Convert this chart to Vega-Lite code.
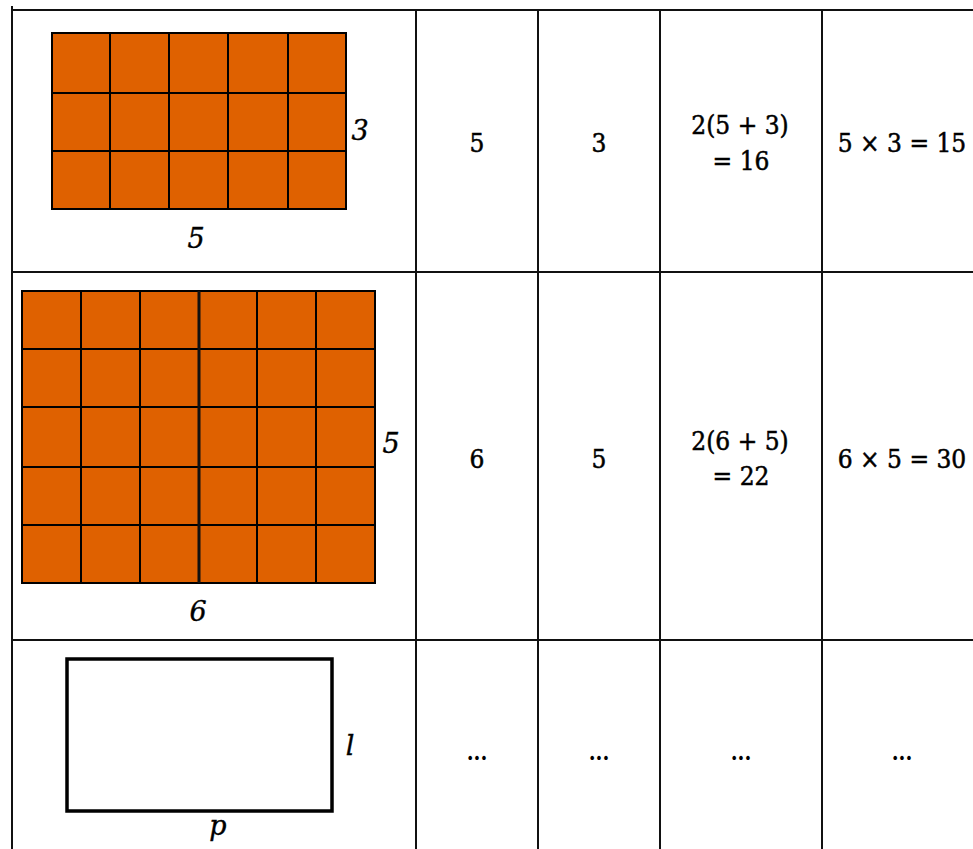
{
  "$schema": "https://vega.github.io/schema/vega-lite/v6.json",
  "width": 973,
  "height": 849,
  "autosize": "none",
  "padding": 0,
  "background": "white",
  "config": {"view": {"stroke": null}},
  "datasets": {
    "cells": [
      {"x":52,"x2":110,"y":33,"y2":93},{"x":110,"x2":169,"y":33,"y2":93},{"x":169,"x2":228,"y":33,"y2":93},{"x":228,"x2":288,"y":33,"y2":93},{"x":288,"x2":346,"y":33,"y2":93},
      {"x":52,"x2":110,"y":93,"y2":151},{"x":110,"x2":169,"y":93,"y2":151},{"x":169,"x2":228,"y":93,"y2":151},{"x":228,"x2":288,"y":93,"y2":151},{"x":288,"x2":346,"y":93,"y2":151},
      {"x":52,"x2":110,"y":151,"y2":209},{"x":110,"x2":169,"y":151,"y2":209},{"x":169,"x2":228,"y":151,"y2":209},{"x":228,"x2":288,"y":151,"y2":209},{"x":288,"x2":346,"y":151,"y2":209},
      {"x":22,"x2":81,"y":291,"y2":349},{"x":81,"x2":140,"y":291,"y2":349},{"x":140,"x2":199,"y":291,"y2":349},{"x":199,"x2":257,"y":291,"y2":349},{"x":257,"x2":316,"y":291,"y2":349},{"x":316,"x2":375,"y":291,"y2":349},
      {"x":22,"x2":81,"y":349,"y2":407},{"x":81,"x2":140,"y":349,"y2":407},{"x":140,"x2":199,"y":349,"y2":407},{"x":199,"x2":257,"y":349,"y2":407},{"x":257,"x2":316,"y":349,"y2":407},{"x":316,"x2":375,"y":349,"y2":407},
      {"x":22,"x2":81,"y":407,"y2":467},{"x":81,"x2":140,"y":407,"y2":467},{"x":140,"x2":199,"y":407,"y2":467},{"x":199,"x2":257,"y":407,"y2":467},{"x":257,"x2":316,"y":407,"y2":467},{"x":316,"x2":375,"y":407,"y2":467},
      {"x":22,"x2":81,"y":467,"y2":525},{"x":81,"x2":140,"y":467,"y2":525},{"x":140,"x2":199,"y":467,"y2":525},{"x":199,"x2":257,"y":467,"y2":525},{"x":257,"x2":316,"y":467,"y2":525},{"x":316,"x2":375,"y":467,"y2":525},
      {"x":22,"x2":81,"y":525,"y2":583},{"x":81,"x2":140,"y":525,"y2":583},{"x":140,"x2":199,"y":525,"y2":583},{"x":199,"x2":257,"y":525,"y2":583},{"x":257,"x2":316,"y":525,"y2":583},{"x":316,"x2":375,"y":525,"y2":583}
    ],
    "frame": [
      {"x":67,"x2":332,"y":659,"y2":811}
    ],
    "lines": [
      {"x":12,"x2":973,"y":10,"y2":10,"w":2},
      {"x":12,"x2":973,"y":272,"y2":272,"w":2},
      {"x":12,"x2":973,"y":640,"y2":640,"w":2},
      {"x":12,"x2":12,"y":6,"y2":849,"w":2},
      {"x":416,"x2":416,"y":10,"y2":849,"w":2},
      {"x":538,"x2":538,"y":10,"y2":849,"w":2},
      {"x":660,"x2":660,"y":10,"y2":849,"w":2},
      {"x":822,"x2":822,"y":10,"y2":849,"w":2},
      {"x":199,"x2":199,"y":291,"y2":583,"w":3}
    ],
    "texts": [
      {"x":477,"y":152,"label":"5"},
      {"x":599,"y":152,"label":"3"},
      {"x":740,"y":134,"label":"2(5 + 3)"},
      {"x":741,"y":170,"label":"= 16"},
      {"x":902,"y":152,"label":"5 × 3 = 15"},
      {"x":477,"y":468,"label":"6"},
      {"x":599,"y":468,"label":"5"},
      {"x":740,"y":450,"label":"2(6 + 5)"},
      {"x":741,"y":485,"label":"= 22"},
      {"x":902,"y":468,"label":"6 × 5 = 30"}
    ],
    "dots": [
      {"x":477,"y":760,"label":"..."},
      {"x":599,"y":760,"label":"..."},
      {"x":741,"y":760,"label":"..."},
      {"x":902,"y":760,"label":"..."}
    ],
    "labels": [
      {"x":360,"y":140,"label":"3"},
      {"x":196,"y":248,"label":"5"},
      {"x":391,"y":453,"label":"5"},
      {"x":198,"y":621,"label":"6"},
      {"x":350,"y":755,"label":"l"},
      {"x":218,"y":835,"label":"p"}
    ]
  },
  "layer": [
    {
      "data": {"name": "cells"},
      "mark": {"type": "rect", "fill": "#DF6100", "stroke": "#000000", "strokeWidth": 2},
      "encoding": {
        "x": {"field": "x", "type": "quantitative", "scale": {"domain": [0, 973], "nice": false, "zero": false}, "axis": null},
        "x2": {"field": "x2"},
        "y": {"field": "y", "type": "quantitative", "scale": {"domain": [0, 849], "nice": false, "zero": false, "reverse": true}, "axis": null},
        "y2": {"field": "y2"}
      }
    },
    {
      "data": {"name": "frame"},
      "mark": {"type": "rect", "fill": "white", "stroke": "#000000", "strokeWidth": 3.5},
      "encoding": {
        "x": {"field": "x", "type": "quantitative"},
        "x2": {"field": "x2"},
        "y": {"field": "y", "type": "quantitative"},
        "y2": {"field": "y2"}
      }
    },
    {
      "data": {"name": "lines"},
      "mark": {"type": "rule", "stroke": "#111111"},
      "encoding": {
        "x": {"field": "x", "type": "quantitative"},
        "x2": {"field": "x2"},
        "y": {"field": "y", "type": "quantitative"},
        "y2": {"field": "y2"},
        "strokeWidth": {"field": "w", "type": "quantitative", "scale": null, "legend": null}
      }
    },
    {
      "data": {"name": "texts"},
      "mark": {"type": "text", "font": "DejaVu Serif Condensed", "fontSize": 26, "align": "center", "baseline": "alphabetic", "color": "#000000", "stroke": "#000000", "strokeWidth": 0.5},
      "encoding": {
        "x": {"field": "x", "type": "quantitative"},
        "y": {"field": "y", "type": "quantitative"},
        "text": {"field": "label"}
      }
    },
    {
      "data": {"name": "dots"},
      "mark": {"type": "text", "font": "DejaVu Serif Condensed", "fontSize": 22, "fontWeight": "bold", "align": "center", "baseline": "alphabetic", "color": "#000000"},
      "encoding": {
        "x": {"field": "x", "type": "quantitative"},
        "y": {"field": "y", "type": "quantitative"},
        "text": {"field": "label"}
      }
    },
    {
      "data": {"name": "labels"},
      "mark": {"type": "text", "font": "DejaVu Serif", "fontSize": 27, "fontStyle": "italic", "align": "center", "baseline": "alphabetic", "color": "#000000", "stroke": "#000000", "strokeWidth": 0.4},
      "encoding": {
        "x": {"field": "x", "type": "quantitative"},
        "y": {"field": "y", "type": "quantitative"},
        "text": {"field": "label"}
      }
    }
  ]
}
